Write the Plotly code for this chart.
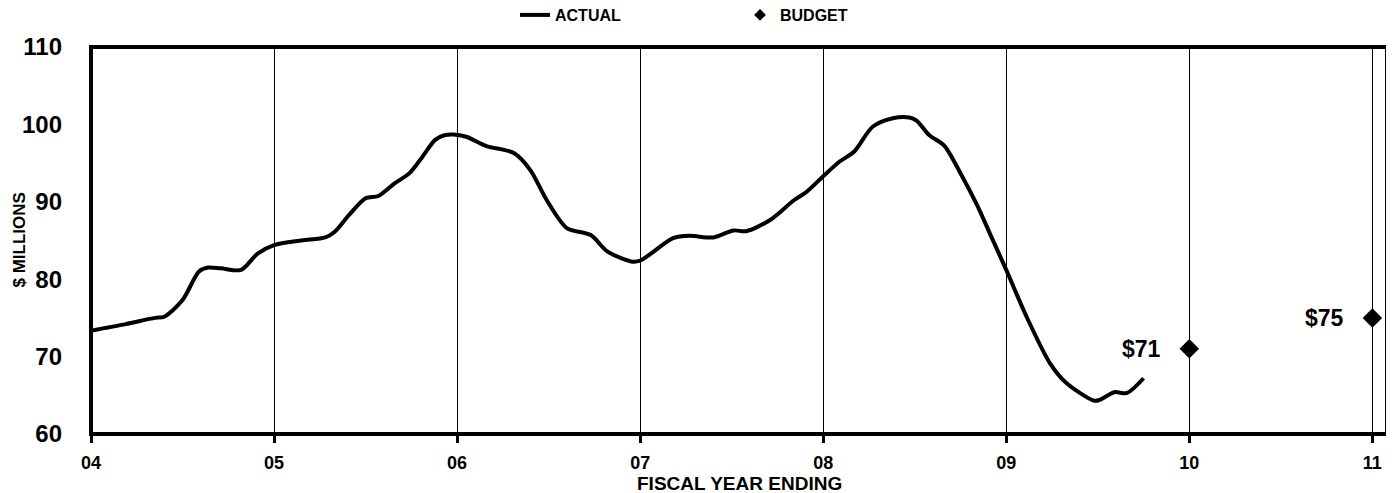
import plotly.graph_objects as go

# ---- data ----
actual_x = [4.00, 4.19, 4.35, 4.40, 4.50, 4.59, 4.64, 4.71, 4.82, 4.91,
            5.00, 5.15, 5.28, 5.33, 5.41, 5.50, 5.57, 5.66, 5.74, 5.81,
            5.88, 5.93, 5.98, 6.05, 6.16, 6.31, 6.40, 6.49, 6.60, 6.73,
            6.82, 6.95, 7.00, 7.18, 7.27, 7.40, 7.51, 7.58, 7.71, 7.84,
            7.91, 8.00, 8.09, 8.17, 8.27, 8.38, 8.47, 8.51, 8.58, 8.66,
            8.75, 8.84, 8.92, 9.00, 9.11, 9.24, 9.33, 9.48, 9.51, 9.59,
            9.66, 9.75]
actual_y = [73.35, 74.2, 75.0, 75.15, 77.3, 81.0, 81.5, 81.4, 81.2, 83.3,
            84.4, 85.0, 85.4, 86.1, 88.3, 90.45, 90.75, 92.4, 93.7, 95.8,
            98.0, 98.6, 98.7, 98.4, 97.2, 96.3, 94.1, 90.2, 86.6, 85.7,
            83.6, 82.3, 82.4, 85.3, 85.6, 85.4, 86.3, 86.2, 87.65, 90.2,
            91.3, 93.3, 95.2, 96.5, 99.7, 100.8, 100.9, 100.5, 98.6, 97.3,
            93.7, 89.6, 85.4, 81.2, 75.2, 69.1, 66.55, 64.3, 64.4, 65.4,
            65.3, 67.2]

budget_x = [10, 11]
budget_y = [71, 75]
budget_labels = ["$71", "$75"]

year_vals = [4, 5, 6, 7, 8, 9, 10, 11]
year_labels = ["04", "05", "06", "07", "08", "09", "10", "11"]
y_ticks = [60, 70, 80, 90, 100, 110]

FONT = "Liberation Sans, Arial, sans-serif"
BOLD = dict(family=FONT, color="black", weight="bold")

# page body has an 8px default margin, so the figure is sized to fit the window
W, H = 1386, 485
ML, MR, MT, MB = 83, 7, 39, 59
PW = W - ML - MR
PH = H - MT - MB

fig = go.Figure()

fig.add_trace(go.Scatter(
    x=actual_x, y=actual_y, mode="lines", name="ACTUAL",
    line=dict(color="black", width=4, shape="spline", smoothing=0.8),
))
fig.add_trace(go.Scatter(
    x=budget_x, y=budget_y, mode="markers", name="BUDGET", showlegend=False,
    marker=dict(symbol="diamond", size=15, color="black"),
))
# legend entry for budget (smaller symbol, as in the reference legend)
fig.add_trace(go.Scatter(
    x=[None], y=[None], mode="markers", name="BUDGET",
    marker=dict(symbol="diamond", size=9, color="black"),
))

for bx, by, bl in zip(budget_x, budget_y, budget_labels):
    fig.add_annotation(x=bx, y=by, xref="x", yref="y", text=bl,
                       showarrow=False, xanchor="right", yanchor="middle",
                       xshift=-26, font=dict(size=23, **BOLD))

fig.add_annotation(x=0.5, y=-49 / PH, xref="paper", yref="paper",
                   text="FISCAL YEAR ENDING", showarrow=False,
                   xanchor="center", yanchor="middle",
                   font=dict(size=19, **BOLD))

fig.add_annotation(x=-72 / PW, y=0.5, xref="paper", yref="paper",
                   text="$ MILLIONS", showarrow=False, textangle=-90,
                   xanchor="center", yanchor="middle",
                   font=dict(size=17, **BOLD))

# heavy frame around the plot area
fig.add_shape(type="rect", xref="paper", yref="paper", x0=0, x1=1, y0=0, y1=1,
              line=dict(color="black", width=4), layer="above")

fig.update_layout(
    width=W, height=H,
    margin=dict(l=ML, r=MR, t=MT, b=MB, autoexpand=False),
    paper_bgcolor="white", plot_bgcolor="white",
    font=dict(family=FONT, color="black"),
    showlegend=True,
    legend=dict(orientation="h", xref="container", yref="container",
                x=507 / W, y=1 - 7 / H, xanchor="left", yanchor="middle",
                entrywidth=180, entrywidthmode="pixels",
                font=dict(size=16, **BOLD), bgcolor="rgba(0,0,0,0)"),
    xaxis=dict(range=[4, 11.08], tickvals=year_vals, ticktext=year_labels,
               showgrid=True, gridcolor="black", gridwidth=1,
               showline=False,
               ticks="outside", ticklen=8, tickwidth=3, tickcolor="black",
               ticklabelstandoff=4, automargin=False,
               tickfont=dict(size=18, **BOLD), zeroline=False),
    yaxis=dict(range=[60, 110], tickvals=y_ticks,
               showgrid=False, showline=False,
               ticks="", ticklabelstandoff=28, automargin=False,
               tickfont=dict(size=24, **BOLD), zeroline=False),
)

fig.write_html("out.html")
